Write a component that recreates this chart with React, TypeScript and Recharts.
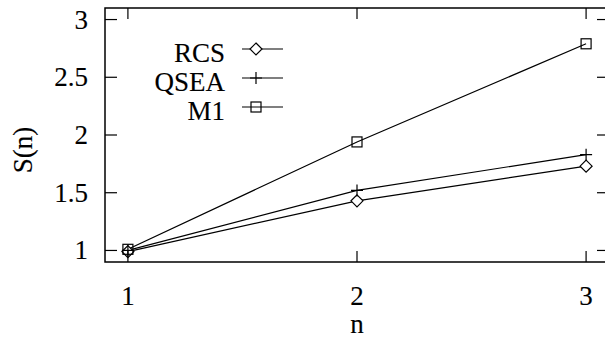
import { LineChart, Line, XAxis, YAxis, Legend, ReferenceArea } from "recharts"

const N = [1, 2, 3]
const RCS = [0.99, 1.43, 1.73]
const QSEA = [1.0, 1.52, 1.83]
const M1 = [1.01, 1.94, 2.79]
const X_TICKS = [1, 2, 3]
const Y_TICKS = [1, 1.5, 2, 2.5, 3]
const LEGEND_ORDER = ["RCS", "QSEA", "M1"]

const FONT = "Liberation Serif, serif"
const FS = 27
const PLOT_W = 504
const PLOT_H = 254
const TXT = { fontFamily: FONT, fontSize: FS, stroke: "#000", strokeWidth: 0.12 }

const data = N.map((n, i) => ({ n, rcs: RCS[i], qsea: QSEA[i], m1: M1[i] }))

type Marker = "diamond" | "plus" | "square"
const MARKERS: Record<string, Marker> = { RCS: "diamond", QSEA: "plus", M1: "square" }

function drawMarker(kind: Marker, cx: number, cy: number, key?: string | number) {
  const s = 5
  if (kind === "diamond")
    return (
      <path key={key} d={`M${cx},${cy - s - 1}L${cx + s + 1},${cy}L${cx},${cy + s + 1}L${cx - s - 1},${cy}Z`} fill="#fff" stroke="#000" strokeWidth={1.2} />
    )
  if (kind === "plus")
    return <path key={key} d={`M${cx - s - 1},${cy}H${cx + s + 1}M${cx},${cy - s - 1}V${cy + s + 1}`} stroke="#000" strokeWidth={1.2} fill="none" />
  return <rect key={key} x={cx - s} y={cy - s} width={s * 2} height={s * 2} fill="#fff" fillOpacity={0} stroke="#000" strokeWidth={1.2} />
}

function dotFor(kind: Marker) {
  return (p: any) => drawMarker(kind, p.cx, p.cy, `${kind}-${p.index}`)
}

// ticks point inward on both the bottom and the top border
function XTick(p: any) {
  const { x, y, payload } = p
  return (
    <g>
      <line x1={x} y1={y} x2={x} y2={y - 11} stroke="#000" strokeWidth={1.2} />
      <line x1={x} y1={y - PLOT_H} x2={x} y2={y - PLOT_H + 11} stroke="#000" strokeWidth={1.2} />
      <text x={x} y={y + 43} textAnchor="middle" style={TXT} fill="#000">
        {payload.value}
      </text>
    </g>
  )
}

function YTick(p: any) {
  const { x, y, payload } = p
  return (
    <g>
      <line x1={x} y1={y} x2={x + 12} y2={y} stroke="#000" strokeWidth={1.2} />
      <line x1={x + PLOT_W} y1={y} x2={x + PLOT_W - 12} y2={y} stroke="#000" strokeWidth={1.2} />
      <text x={x - 17} y={y + 9} textAnchor="end" style={TXT} fill="#000">
        {payload.value}
      </text>
    </g>
  )
}

function LegendBox({ payload }: any) {
  const items = [...(payload ?? [])].sort(
    (a: any, b: any) => LEGEND_ORDER.indexOf(a.value) - LEGEND_ORDER.indexOf(b.value)
  )
  return (
    <svg width={300} height={130} style={{ position: "absolute", left: 0, top: 0, overflow: "visible" }}>
      {items.map((it: any, i: number) => {
        const ly = 49 + i * 29
        return (
          <g key={it.value}>
            <text x={225} y={ly + 13} textAnchor="end" style={TXT} fill="#000">
              {it.value}
            </text>
            <line x1={242} y1={ly} x2={283} y2={ly} stroke="#000" strokeWidth={1.2} />
            {drawMarker(MARKERS[it.value], 256, ly)}
          </g>
        )
      })}
    </svg>
  )
}

export default function App() {
  return (
    <div style={{ position: "fixed", left: 0, top: 0, width: 605, height: 338, overflow: "hidden", background: "#fff" }}>
      <LineChart width={620} height={338} data={data} margin={{ top: 8, right: 11, bottom: 0, left: 0 }}>
        <XAxis
          dataKey="n"
          type="number"
          domain={[0.9, 3.1]}
          ticks={X_TICKS}
          tickSize={0}
          tickMargin={0}
          axisLine={false}
          tick={XTick}
          height={76}
          label={(props: any) => {
            const vb = props.viewBox
            return (
              <text x={vb.x + vb.width / 2} y={vb.y + 71} textAnchor="middle" style={TXT} fill="#000">
                n
              </text>
            )
          }}
        />
        <YAxis
          type="number"
          domain={[0.9, 3.1]}
          ticks={Y_TICKS}
          tickSize={0}
          tickMargin={0}
          axisLine={false}
          tick={YTick}
          width={105}
          label={(props: any) => {
            const vb = props.viewBox
            const cy = vb.y + vb.height / 2 + 15
            return (
              <text x={32} y={cy} transform={`rotate(-90 32 ${cy})`} textAnchor="middle" style={TXT} fill="#000">
                S(n)
              </text>
            )
          }}
        />
        <ReferenceArea x1={0.9} x2={3.1} y1={0.9} y2={3.1} fill="none" stroke="#000" strokeWidth={1.5} />
        <Legend
          content={LegendBox}
          wrapperStyle={{ position: "absolute", left: 0, top: 0, width: 0, height: 0, overflow: "visible" }}
        />
        <Line dataKey="rcs" name="RCS" stroke="#000" strokeWidth={1.2} dot={dotFor("diamond")} isAnimationActive={false} />
        <Line dataKey="qsea" name="QSEA" stroke="#000" strokeWidth={1.2} dot={dotFor("plus")} isAnimationActive={false} />
        <Line dataKey="m1" name="M1" stroke="#000" strokeWidth={1.2} dot={dotFor("square")} isAnimationActive={false} />
      </LineChart>
    </div>
  )
}
